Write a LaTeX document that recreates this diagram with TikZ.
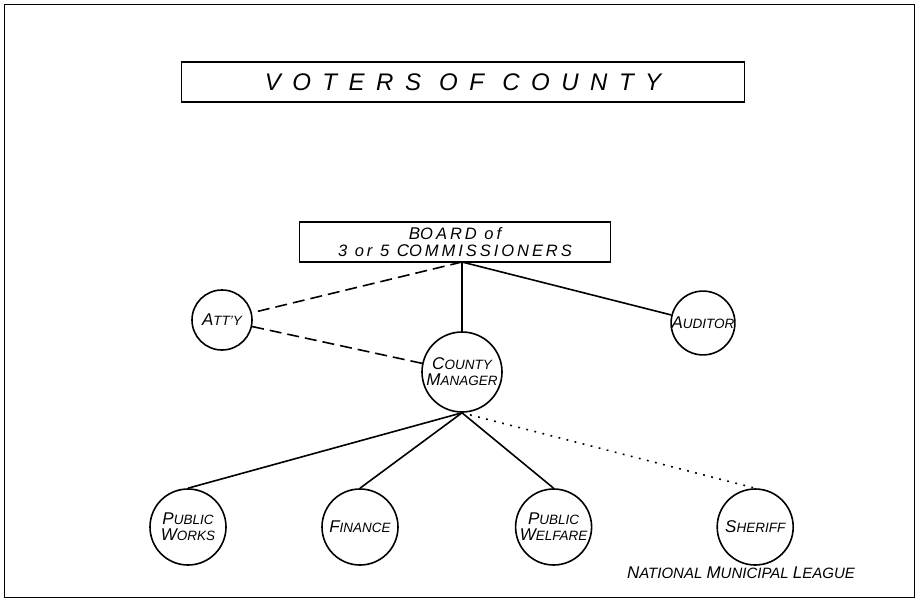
\documentclass[tikz,border=0pt]{standalone}
\usepackage{fontspec}
\setsansfont{Liberation Sans}
\usetikzlibrary{positioning}
\newcommand{\initcap}[2]{{\fontsize{17}{17}\selectfont #1}#2}
\tikzset{
every node/.style={font=\sffamily\itshape},
panel/.style={draw, rectangle, align=center, inner sep=0pt},
office/.style={draw, circle, align=center, inner sep=0pt, minimum size=76pt,
  font=\sffamily\itshape\fontsize{13.5}{16}\selectfont},
staff/.style={office, minimum size=60pt},
advice/.style={dash pattern=on 12pt off 6pt},
loose/.style={dash pattern=on 1.8pt off 6.5pt},
}

\begin{document}
\begin{tikzpicture}[x=1pt, y=-1pt, line width=1.6pt]
        \useasboundingbox (0,0) rectangle (919,602);
        \draw[line width=1pt] (4,5) rectangle (914,597);

        \node [panel, minimum width=563pt, minimum height=40pt,
               font=\sffamily\itshape\fontsize{24}{26}\selectfont] (voters) at (463,82)
        {\addfontfeature{LetterSpace=48}VOTERS OF COUNTY};

        \node [panel, minimum width=311pt, minimum height=40pt,
               font=\sffamily\itshape\fontsize{16.5}{17}\selectfont] (board) at (455,242)
        {\addfontfeature{LetterSpace=18}\initcap{B}{OARD} of\\
         \addfontfeature{LetterSpace=18}3 or 5 \initcap{C}{OMMISSIONERS}};

        \node [staff] (atty) at (222,320) {\initcap{A}{TT'Y}};
        \node [staff] (auditor) at (703,323) {\initcap{A}{UDITOR}};
        \node [office, minimum size=80pt] (manager) at (462,372)
        {\initcap{C}{OUNTY}\\\initcap{M}{ANAGER}};

        \node [office] (works) at (188,527) {\initcap{P}{UBLIC}\\\initcap{W}{ORKS}};
        \node [office] (finance) at (360,527) {\initcap{F}{INANCE}};
        \node [office] (welfare) [right=116pt of finance] {\initcap{P}{UBLIC}\\\initcap{W}{ELFARE}};
        \node [office] (sheriff) [right=124pt of welfare] {\initcap{S}{HERIFF}};

        \node [font=\sffamily\itshape\fontsize{15}{16}\selectfont] (league) at (741,573)
        {\initcap{N}{ATIONAL} \initcap{M}{UNICIPAL} \initcap{L}{EAGUE}};

        \coordinate (bs) at (462,262);
        \coordinate (ms) at (manager.south);

        \draw (voters.south -| bs) -- (voters.south -| bs |- board.north);
        \draw (bs) -- (manager);
        \draw (bs) -- (auditor);
        \draw[advice] (bs) -- (atty);
        \draw[advice] (atty) -- (manager);

        \draw (ms) -- (works.north);
        \draw (ms) -- (finance.north);
        \draw (ms) -- (welfare.north);
        \draw[loose] (ms) -- (sheriff.north);
    \end{tikzpicture}
\end{document}
